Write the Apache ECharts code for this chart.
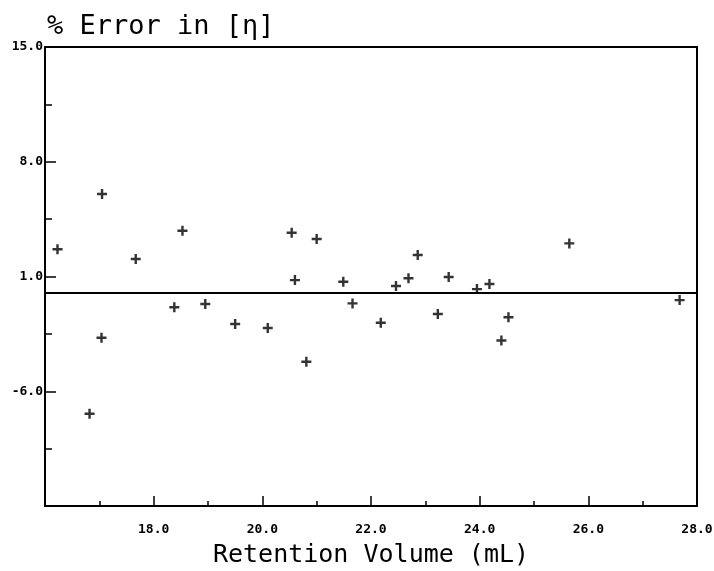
<!DOCTYPE html>
<html>
<head>
<meta charset="utf-8">
<script src="https://cdn.jsdelivr.net/npm/echarts@6/dist/echarts.min.js"></script>
<style>
  html, body { margin: 0; padding: 0; background: #fff; }
  #chart { width: 714px; height: 571px; }
</style>
</head>
<body>
<div id="chart"></div>
<script>
// Retention volume (mL) of each sample
const retentionVolume = [
  16.23, 16.82, 17.04, 17.05, 17.67, 18.38, 18.53, 18.95, 19.50, 20.10,
  20.54, 20.60, 20.81, 21.00, 21.49, 21.66, 22.18, 22.46, 22.69, 22.86,
  23.23, 23.43, 23.95, 24.18, 24.40, 24.53, 25.65, 27.68
];
// Percent error in intrinsic viscosity at each retention volume
const percentError = [
  2.66, -7.37, -2.74, 6.03, 2.07, -0.88, 3.79, -0.68, -1.90, -2.14,
  3.67, 0.78, -4.20, 3.29, 0.68, -0.64, -1.82, 0.42, 0.89, 2.31,
  -1.29, 0.97, 0.23, 0.54, -2.90, -1.49, 3.02, -0.44
];
// Labelled ticks on each axis
const xTickLabels = [18, 20, 22, 24, 26, 28];
const yTickLabels = [15, 8, 1, -6];

const points = retentionVolume.map((v, i) => [v, percentError[i]]);

const plus = 'path://M3.8,0H6.2V3.8H10V6.2H6.2V10H3.8V6.2H0V3.8H3.8Z';
const labelFont = { fontFamily: 'DejaVu Sans Mono', fontWeight: 'bold', fontSize: 13, color: '#000' };

const chart = echarts.init(document.getElementById('chart'), null, { renderer: 'canvas' });
chart.setOption({
  backgroundColor: '#fff',
  animation: false,
  title: {
    text: '% Error in [η]',
    left: 42, top: 8,
    textStyle: { fontFamily: 'DejaVu Sans Mono', fontWeight: 'normal', fontSize: 27, color: '#000' }
  },
  grid: {
    left: 45, right: 17, top: 47, bottom: 65,
    outerBoundsMode: 'none', containLabel: false,
    show: true, borderColor: '#000', borderWidth: 2, backgroundColor: 'transparent'
  },
  xAxis: {
    type: 'value', min: 16, max: 28, interval: 2,
    name: 'Retention Volume (mL)', nameLocation: 'middle', nameGap: 37,
    nameTextStyle: { fontFamily: 'DejaVu Sans Mono', fontSize: 25, color: '#000' },
    axisLine: { show: true, onZero: false, lineStyle: { color: '#000', width: 2 } },
    axisTick: { show: true, inside: true, length: 10, lineStyle: { color: '#000', width: 1.5 } },
    minorTick: { show: true, splitNumber: 2, length: 5, lineStyle: { color: '#000', width: 1.5 } },
    splitLine: { show: false },
    axisLabel: Object.assign({
      margin: 17,
      formatter: v => xTickLabels.includes(v) ? v.toFixed(1) : ''
    }, labelFont)
  },
  yAxis: {
    type: 'value', min: -13, max: 15, interval: 7,
    axisLine: { show: true, onZero: false, lineStyle: { color: '#000', width: 2 } },
    axisTick: { show: true, inside: true, length: 11, lineStyle: { color: '#000', width: 1.5 } },
    minorTick: { show: true, splitNumber: 2, length: 7, lineStyle: { color: '#000', width: 1.5 } },
    splitLine: { show: false },
    axisLabel: Object.assign({
      margin: 2,
      formatter: v => yTickLabels.includes(v) ? v.toFixed(1) : ''
    }, labelFont)
  },
  series: [{
    type: 'scatter',
    data: points,
    symbol: plus,
    symbolSize: 10,
    itemStyle: { color: '#000' },
    markLine: {
      silent: true,
      symbol: ['none', 'none'],
      label: { show: false },
      lineStyle: { color: '#000', width: 2, type: 'solid' },
      data: [{ yAxis: 0 }]
    }
  }]
});
</script>
</body>
</html>
